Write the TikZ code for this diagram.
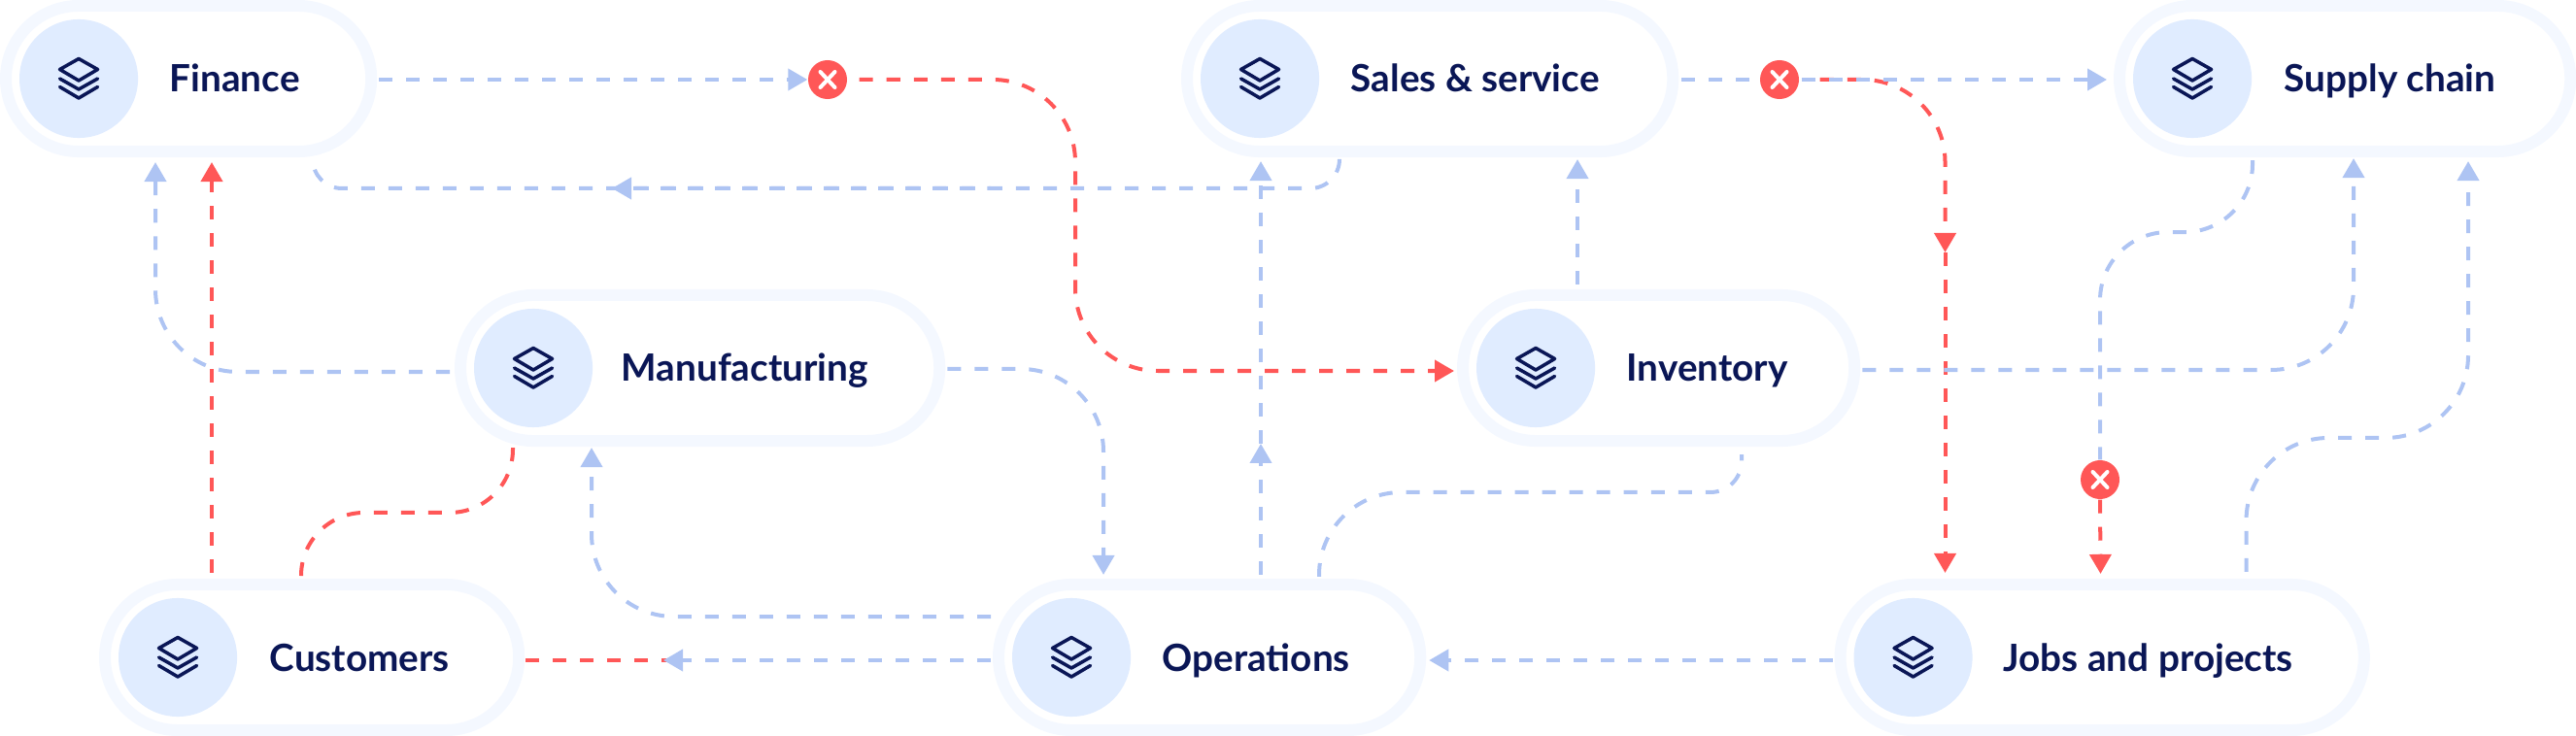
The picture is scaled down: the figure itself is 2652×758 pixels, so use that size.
\documentclass[tikz,border=0pt]{standalone}
\usepackage{fontspec}
\setmainfont{Lato}
\usepackage{xcolor}
\usetikzlibrary{arrows.meta,calc,positioning}

\definecolor{ringblue}{HTML}{F4F8FF}
\definecolor{discblue}{HTML}{E0ECFF}
\definecolor{inkblue}{HTML}{0A1656}
\definecolor{linkblue}{HTML}{AEC4F3}
\definecolor{linkred}{HTML}{FF5757}

\tikzset{
    pill/.style={draw=ringblue, line width=.12cm, fill=white, rounded corners=.75cm,
        minimum height=1.5cm, minimum width=#1, inner sep=0pt, anchor=west},
    disc/.style={circle, fill=discblue, minimum size=1.22cm, inner sep=0pt, outer sep=0pt,
        path picture={
            \draw[inkblue, line width=.035cm, line join=round, line cap=round]
                (0,-20.5) -- (19.5,-9.5) -- (0,2) -- (-19.5,-9.5) -- cycle
                (-19.5,0) -- (0,11) -- (19.5,0)
                (-19.5,8.5) -- (0,20) -- (19.5,8.5);
        }},
    pilltext/.style={anchor=base west, inner sep=0pt, text=inkblue, font=\fontsize{11pt}{13pt}\selectfont\bfseries},
    stopmark/.style={circle, fill=linkred, minimum size=.4cm, inner sep=0pt,
        path picture={
            \draw[white, line width=.04cm, line cap=round]
                (-7.5,-8) -- (7.5,8) (-7.5,8) -- (7.5,-8);
        }},
    bluelink/.style={draw=linkblue, line width=.04cm, dash pattern=on .14cm off .14cm, rounded corners=.85cm},
    redlink/.style={draw=linkred, line width=.04cm, dash pattern=on .14cm off .14cm, rounded corners=.85cm},
    tip/.style={-{Triangle[length=.2cm, width=.22cm]}},
}

\begin{document}
\begin{tikzpicture}[x=.01cm, y=-.01cm]
    \useasboundingbox (0,0) rectangle (2652,758);

    % Pills
    \node[pill=3.76cm] (finance) at (0,81) {};
    \node[pill=5cm] (sales) at (1216,81) {};
    \node[pill=4.64cm] (supply) at (2176,81) {};
    \node[pill=4.93cm] (manufacturing) at (468,379) {};
    \node[pill=4.03cm] (inventory) at (1500,379) {};
    \node[pill=4.26cm] (customers) at (102,677) {};
    \node[pill=4.34cm] (operations) at (1022,677) {};
    \node[pill=5.39cm] (jobs) at (1888.5,677) {};

    \node[disc, right=.2cm of finance.west] (financedisc) {};
    \node[disc, right=.2cm of sales.west] (salesdisc) {};
    \node[disc, right=.2cm of supply.west] (supplydisc) {};
    \node[disc, right=.2cm of manufacturing.west] (manufacturingdisc) {};
    \node[disc, right=.2cm of inventory.west] (inventorydisc) {};
    \node[disc, right=.2cm of customers.west] (customersdisc) {};
    \node[disc, right=.2cm of operations.west] (operationsdisc) {};
    \node[disc, right=.2cm of jobs.west] (jobsdisc) {};

    \node[pilltext] (financetext) at (174,95) {Finance};
    \node[pilltext] (salestext) at (1390,95) {Sales \& service};
    \node[pilltext] (supplytext) at (2351,95) {Supply chain};
    \node[pilltext] (manufacturingtext) at (639,393) {Manufacturing};
    \node[pilltext] (inventorytext) at (1674,393) {Inventory};
    \node[pilltext] (customerstext) at (277,691) {Customers};
    \node[pilltext] (operationstext) at (1196,691) {Operations};
    \node[pilltext] (jobstext) at (2062,691) {Jobs and projects};

    % Stops
    \node[stopmark] (stopa) at (852,82) {};
    \node[stopmark] (stopb) at (1832,82) {};
    \node[stopmark] (stopc) at (2162,494) {};

    \coordinate (backtip) at (630,194);
    \coordinate (opsmid) at ($(operations.north west)+(276,-139)$);
    \coordinate (jobsmid) at ($(jobs.north west)+(114,-336)$);

    % Red links
    \draw[redlink] ($(customers.east)+(1,3)$) -- (690,680);
    \draw[redlink, tip] ($(customers.north west)+(116,-6)$) -- ($(finance.south west)+(218,5)$);
    \draw[redlink, rounded corners=.65cm] ($(customers.north west)+(208,-3)$) -- ++(0,-65) -| ($(manufacturing.south west)+(60,1)$);
    \draw[redlink, tip] ($(stopa.east)+(12,0)$) -- (1107,82) |- ($(inventory.west)+(-3,3)$);
    \draw[redlink, tip] ($(stopb.east)+(21,0)$) -| (jobsmid);
    \draw[redlink, tip] (jobsmid) -- ($(jobs.north west)+(114,-6)$);
    \draw[redlink, tip] (stopc.south) -- ($(jobs.north west)+(274,-5)$);

    % Blue links
    \draw[bluelink, tip] ($(finance.east)+(2,1)$) -- (stopa.west);
    \draw[bluelink, tip, rounded corners=.3cm] ($(sales.south west)+(163,2)$) |- (backtip);
    \draw[bluelink, rounded corners=.3cm, dash phase=.15cm] ($(finance.south west)+(322,4)$) |- (1020,194);
    \draw[bluelink, tip] ($(manufacturing.west)+(-5,4)$) -| ($(finance.south west)+(160,5)$);
    \draw[bluelink, tip] ($(manufacturing.east)+(2,1)$) -| ($(operations.north west)+(114,-4)$);
    \draw[bluelink, tip] ($(operations.west)+(-2,-42)$) -| ($(manufacturing.south west)+(141,1)$);
    \draw[bluelink, tip] ($(operations.west)+(-2,3)$) -- (683,680);
    \draw[bluelink, tip] ($(jobs.west)+(-2,3)$) -- ($(operations.east)+(3,3)$);
    \draw[bluelink, tip] ($(operations.north west)+(276,-4)$) -- (opsmid);
    \draw[bluelink, tip] (opsmid) -- ($(sales.south west)+(82,4)$);
    \draw[bluelink] ($(operations.north west)+(336,-2)$) [rounded corners=.85cm] -- ++(0,-87) [rounded corners=.32cm] -| ($(inventory.south west)+(293,8)$);
    \draw[bluelink, tip] ($(inventory.north west)+(124,-5)$) -- ($(sales.south west)+(408,2)$);
    \draw[bluelink] ($(sales.east)+(3,1)$) -- (stopb.west);
    \draw[bluelink, tip] ($(stopb.east)+(2,0)$) -- ($(supply.west)+(-7,1)$);
    \draw[bluelink, rounded corners=.7cm] ($(supply.south west)+(143,3)$) -- ++(0,74) -| (stopc.north);
    \draw[bluelink, tip] ($(jobs.north west)+(424,-7)$) -- ++(0,-138) -| ($(supply.south west)+(365,4)$);
    \draw[bluelink, tip] ($(inventory.east)+(2,2)$) -| ($(supply.south west)+(247,1)$);
\end{tikzpicture}
\end{document}
